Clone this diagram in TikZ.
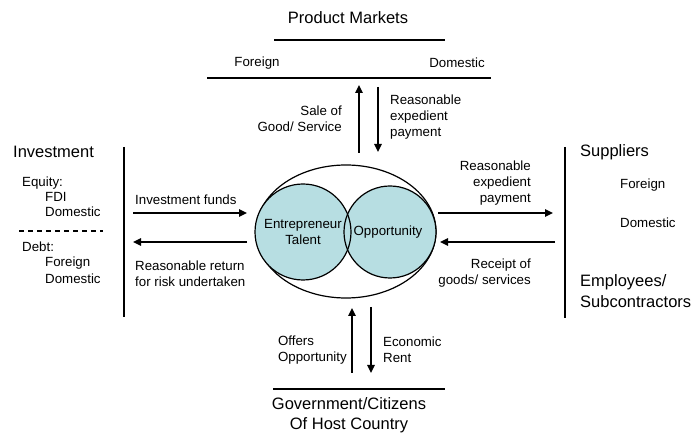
\documentclass[tikz,border=0pt]{standalone}
\usepackage{fontspec}
\setmainfont{Liberation Sans}
\usetikzlibrary{arrows.meta,shapes.geometric}
\definecolor{circfill}{RGB}{183,222,226}
\tikzset{
  sm/.style={inner sep=0pt, font=\fontsize{13.3}{16}\selectfont},
  lg/.style={inner sep=0pt, font=\fontsize{16.5}{21}\selectfont},
  flow/.style={line width=1.5pt, -{Triangle[length=8pt,width=7.5pt]}},
  rule/.style={line width=1.2pt},
  circ/.style={circle, fill=circfill, inner sep=0pt},
  ring/.style={circle, draw, line width=1.2pt, inner sep=0pt},
}
\begin{document}
\begin{tikzpicture}[x=1pt,y=-1pt]
\useasboundingbox (0,0) rectangle (699,435);
% top
\node[lg] (pm) at (348,18) {Product Markets};
\draw[rule] (274,40) -- (445,40);
\node[sm] (pmf) at (257,63) {Foreign};
\node[sm] (pmd) at (457,63) {Domestic};
\draw[rule] (207,78) -- (491,78);
% centre
\node[ellipse, draw, line width=1.2pt, minimum width=180pt, minimum height=133pt, inner sep=0pt] (ell) at (346,231.5) {};
\node[circ, minimum size=96pt] (talentf) at (303,232) {};
\node[circ, minimum size=92pt] (oppf) at (390,232) {};
\node[ring, minimum size=96pt] (talent) at (303,232) {};
\node[ring, minimum size=92pt] (opp) at (390,232) {};
\node[sm, align=center] (tt) at (303,232) {Entrepreneur\\Talent};
\node[sm] (ot) at (388,232) {Opportunity};
% top arrows
\coordinate (t1a) at (359,153); \coordinate (t1b) at (359,85);
\coordinate (t2a) at (378,87); \coordinate (t2b) at (378,152);
\draw[flow] (t1a) -- (t1b);
\draw[flow] (t2a) -- (t2b);
\node[sm, align=right, anchor=east] (sale) at (342,119) {Sale of\\Good/ Service};
\node[sm, align=left, anchor=west] (rep1) at (390,117) {Reasonable\\expedient\\payment};
% left
\draw[rule] (124,147) -- (124,317);
\node[lg, anchor=west] (inv) at (13,152) {Investment};
\node[sm, anchor=west] (eq) at (22,183) {Equity:};
\node[sm, anchor=west] (fdi) at (45,197) {FDI};
\node[sm, anchor=west] (dom1) at (45,212) {Domestic};
\draw[line width=1.1pt, dash pattern=on 5pt off 4pt] (19,231) -- (103,231);
\node[sm, anchor=west] (debt) at (22,247) {Debt:};
\node[sm, anchor=west] (for1) at (45,263) {Foreign};
\node[sm, anchor=west] (dom2) at (45,279) {Domestic};
\coordinate (l1a) at (133,213); \coordinate (l1b) at (247,213);
\coordinate (l2a) at (247,242); \coordinate (l2b) at (133,242);
\draw[flow] (l1a) -- (l1b);
\draw[flow] (l2a) -- (l2b);
\node[sm, anchor=west] (invf) at (135,200) {Investment funds};
\node[sm, anchor=west, align=left] (rrr) at (135,274) {Reasonable return\\for risk undertaken};
% right
\coordinate (r1a) at (438,213); \coordinate (r1b) at (553,213);
\coordinate (r2a) at (555,242); \coordinate (r2b) at (440,242);
\draw[flow] (r1a) -- (r1b);
\draw[flow] (r2a) -- (r2b);
\node[sm, anchor=east, align=right] (rep2) at (531,183) {Reasonable\\expedient\\payment};
\node[sm, anchor=east, align=right] (rec) at (531,273) {Receipt of\\goods/ services};
\draw[rule] (565,147) -- (565,318);
\node[lg, anchor=west] (sup) at (580,152) {Suppliers};
\node[sm, anchor=west] (for2) at (620,185) {Foreign};
\node[sm, anchor=west] (dom3) at (620,223) {Domestic};
\node[lg, anchor=west, align=left] (emp) at (580,291) {Employees/\\Subcontractors};
% bottom
\coordinate (b1a) at (352,373); \coordinate (b1b) at (352,308);
\coordinate (b2a) at (371,307); \coordinate (b2b) at (371,373);
\draw[flow] (b1a) -- (b1b);
\draw[flow] (b2a) -- (b2b);
\node[sm, anchor=east, align=left] (offer) at (347,350) {Offers\\Opportunity};
\node[sm, anchor=west, align=left] (econ) at (383,350) {Economic\\Rent};
\draw[rule] (273,389) -- (445,389);
\node[lg, align=center, font=\fontsize{16.5}{20}\selectfont] (gov) at (349,415) {Government/Citizens\\Of Host Country};
\end{tikzpicture}
\end{document}
